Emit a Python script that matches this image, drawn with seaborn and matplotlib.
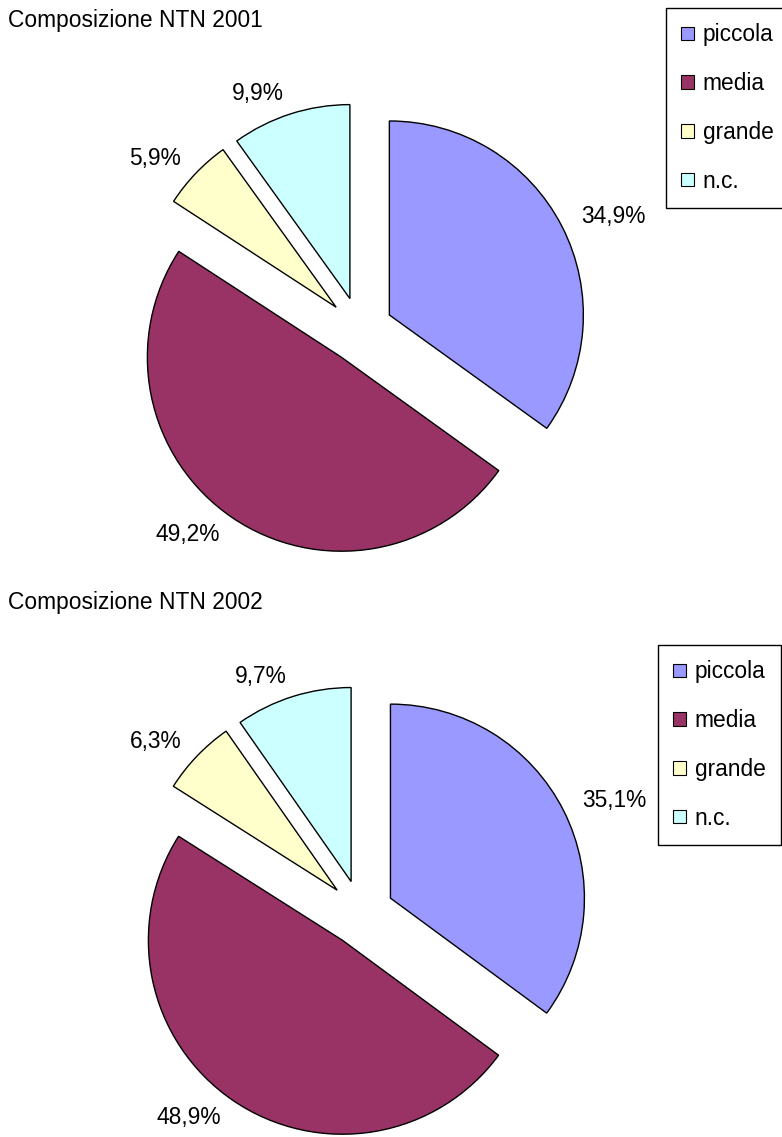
import matplotlib
matplotlib.use("Agg")
import matplotlib.pyplot as plt
from matplotlib.patches import Patch
import seaborn as sns

# Composition of NTN by size class, two years
categories = ["piccola", "media", "grande", "n.c."]
shares_2001 = [34.9, 49.2, 5.9, 9.9]
shares_2002 = [35.1, 48.9, 6.3, 9.7]
titles = ["Composizione NTN 2001", "Composizione NTN 2002"]
slice_colors = ["#9999FF", "#993366", "#FFFFCC", "#CCFFFF"]

sns.set_theme(style="white")
plt.rcParams["font.family"] = ["Liberation Sans", "DejaVu Sans"]
plt.rcParams["text.color"] = "black"

W, H = 782, 1137
fig = plt.figure(figsize=(W / 100, H / 100), dpi=100)
fig.patch.set_facecolor("white")
palette = sns.color_palette(slice_colors)
FS = 16.4


def pie_axes(cx, cy, r, half=1.5):
    """Axes whose data units map to r pixels, centred at pixel (cx, cy)."""
    left = (cx - half * r) / W
    bottom = (H - cy - half * r) / H
    ax = fig.add_axes([left, bottom, 2 * half * r / W, 2 * half * r / H])
    return ax, half


def fmt(v):
    return f"{v:.1f}%".replace(".", ",")


def draw(shares, title, cx, cy, r, title_y, legend_xy):
    ax, half = pie_axes(cx, cy, r)
    ax.pie(
        shares,
        labels=[fmt(v) for v in shares],
        colors=palette,
        startangle=90,
        counterclock=False,
        explode=[0.17] * len(shares),
        labeldistance=1.11,
        wedgeprops=dict(edgecolor="black", linewidth=1.0),
        textprops=dict(fontsize=FS, color="black"),
    )
    ax.set_xlim(-half, half)
    ax.set_ylim(-half, half)
    ax.set_axis_off()
    fig.text(8 / W, 1 - title_y / H, title, fontsize=FS, color="black",
             ha="left", va="center")
    handles = [Patch(facecolor=c, edgecolor="black", linewidth=0.8) for c in palette]
    leg = fig.legend(
        handles, categories,
        loc="upper left",
        bbox_to_anchor=(legend_xy[0] / W, 1 - legend_xy[1] / H),
        fontsize=FS, frameon=True, fancybox=False, shadow=False,
        handlelength=0.53, handleheight=0.53, handletextpad=0.4,
        labelspacing=1.13, borderpad=0.68, borderaxespad=0,
    )
    for t in leg.get_texts():
        t.set_color("black")
    fr = leg.get_frame()
    fr.set_edgecolor("black")
    fr.set_linewidth(1.0)
    fr.set_alpha(1)


draw(shares_2001, titles[0], 360, 330, 194, 20, (666, 8))
draw(shares_2002, titles[1], 361, 913, 194, 602, (658, 645))

fig.savefig("out.png", dpi=100, facecolor="white")
